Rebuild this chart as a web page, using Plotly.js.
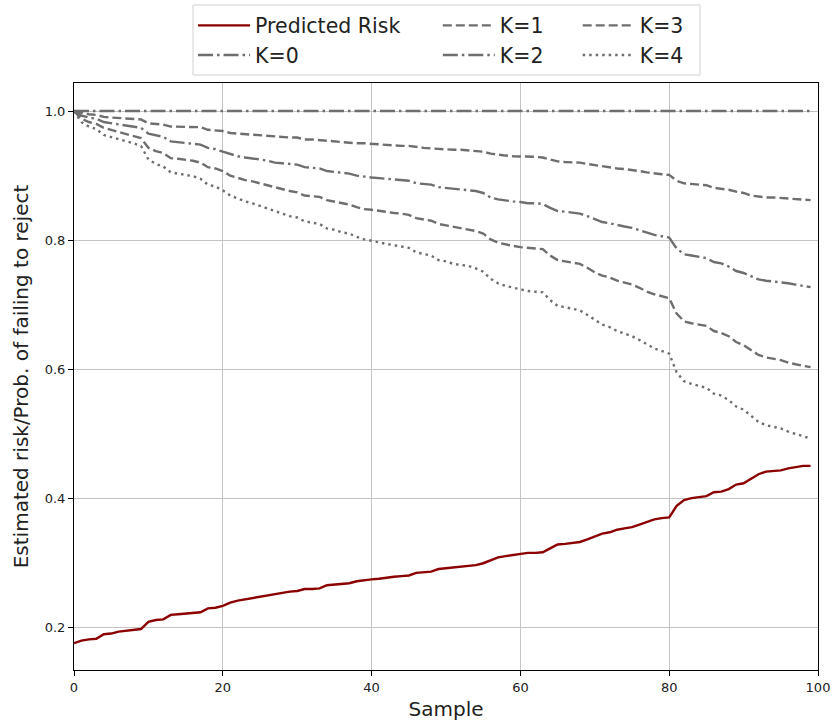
<!DOCTYPE html>
<html>
<head>
<meta charset="utf-8">
<script src="https://cdn.plot.ly/plotly-3.0.1.min.js"></script>
<style>html,body{margin:0;padding:0;background:#fff;}#chart{width:834px;height:725px;}</style>
</head>
<body>
<div id="chart"></div>
<script>
const sample = Array.from({length: 100}, (_, i) => i);

const predictedRisk = [
  0.175,0.179,0.181,0.182,0.189,0.190,0.193,0.194,0.195,0.197,
  0.208,0.211,0.212,0.219,0.220,0.221,0.222,0.223,0.229,0.230,
  0.233,0.238,0.241,0.243,0.245,0.247,0.249,0.252,0.254,0.255,
  0.256,0.259,0.259,0.260,0.265,0.266,0.268,0.268,0.271,0.273,
  0.274,0.275,0.277,0.278,0.279,0.280,0.284,0.285,0.286,0.290,
  0.291,0.293,0.293,0.294,0.296,0.299,0.304,0.308,0.310,0.312,
  0.313,0.315,0.315,0.316,0.322,0.328,0.329,0.331,0.332,0.336,
  0.340,0.345,0.347,0.351,0.353,0.355,0.359,0.363,0.367,0.369,
  0.370,0.388,0.397,0.400,0.401,0.403,0.409,0.410,0.414,0.421,
  0.423,0.430,0.437,0.441,0.442,0.443,0.446,0.448,0.450,0.450
];

const k0 = Array(100).fill(1.0);

const k1 = [
  1.000,0.997,0.995,0.994,0.991,0.990,0.989,0.989,0.988,0.987,
  0.981,0.980,0.979,0.976,0.976,0.976,0.975,0.975,0.971,0.970,
  0.969,0.966,0.965,0.964,0.963,0.962,0.962,0.960,0.959,0.959,
  0.959,0.956,0.956,0.955,0.953,0.952,0.952,0.951,0.950,0.950,
  0.949,0.948,0.947,0.947,0.946,0.946,0.944,0.943,0.942,0.941,
  0.941,0.940,0.940,0.939,0.938,0.937,0.934,0.932,0.931,0.930,
  0.930,0.929,0.929,0.928,0.925,0.922,0.921,0.921,0.920,0.918,
  0.916,0.914,0.913,0.911,0.910,0.909,0.907,0.905,0.903,0.902,
  0.901,0.892,0.888,0.887,0.886,0.885,0.881,0.880,0.878,0.875,
  0.873,0.869,0.867,0.866,0.866,0.865,0.864,0.863,0.862,0.862
];

const k2 = [
  1.000,0.993,0.990,0.988,0.983,0.981,0.979,0.978,0.976,0.974,
  0.965,0.962,0.960,0.953,0.952,0.951,0.950,0.948,0.943,0.941,
  0.937,0.933,0.930,0.928,0.927,0.925,0.923,0.920,0.919,0.918,
  0.917,0.913,0.912,0.911,0.907,0.906,0.904,0.903,0.900,0.898,
  0.897,0.896,0.895,0.894,0.893,0.892,0.888,0.887,0.886,0.882,
  0.881,0.879,0.879,0.878,0.876,0.873,0.866,0.863,0.861,0.860,
  0.859,0.857,0.857,0.856,0.850,0.845,0.844,0.842,0.841,0.837,
  0.832,0.828,0.826,0.823,0.821,0.819,0.815,0.811,0.808,0.806,
  0.804,0.787,0.778,0.776,0.774,0.772,0.766,0.764,0.759,0.752,
  0.749,0.744,0.739,0.737,0.736,0.735,0.733,0.731,0.729,0.727
];

const k3 = [
  1.000,0.988,0.983,0.980,0.974,0.971,0.968,0.965,0.962,0.958,
  0.943,0.938,0.935,0.927,0.926,0.925,0.923,0.920,0.913,0.911,
  0.907,0.900,0.896,0.893,0.891,0.888,0.885,0.881,0.878,0.876,
  0.874,0.869,0.868,0.867,0.862,0.860,0.857,0.855,0.851,0.848,
  0.847,0.845,0.844,0.842,0.841,0.839,0.834,0.832,0.830,0.825,
  0.823,0.820,0.819,0.817,0.814,0.810,0.801,0.796,0.793,0.791,
  0.789,0.788,0.787,0.786,0.776,0.769,0.767,0.765,0.763,0.757,
  0.750,0.745,0.742,0.737,0.734,0.731,0.726,0.720,0.716,0.713,
  0.710,0.686,0.674,0.671,0.669,0.667,0.659,0.656,0.651,0.642,
  0.637,0.630,0.622,0.618,0.616,0.614,0.610,0.607,0.605,0.603
];

const k4 = [
  1.000,0.983,0.976,0.972,0.963,0.960,0.956,0.953,0.950,0.946,
  0.925,0.918,0.914,0.905,0.903,0.902,0.899,0.895,0.886,0.883,
  0.877,0.869,0.864,0.860,0.857,0.853,0.849,0.844,0.840,0.837,
  0.835,0.829,0.827,0.825,0.818,0.816,0.812,0.810,0.805,0.801,
  0.799,0.796,0.794,0.792,0.790,0.788,0.781,0.779,0.776,0.769,
  0.767,0.763,0.762,0.760,0.756,0.751,0.740,0.733,0.729,0.726,
  0.724,0.721,0.720,0.719,0.707,0.698,0.696,0.693,0.691,0.684,
  0.676,0.669,0.665,0.659,0.655,0.651,0.645,0.638,0.632,0.628,
  0.624,0.595,0.581,0.577,0.574,0.571,0.562,0.559,0.552,0.542,
  0.537,0.528,0.518,0.513,0.511,0.508,0.503,0.500,0.496,0.492
];

const seriesNames = ['Predicted Risk','K=0','K=1','K=2','K=3','K=4'];
const xTicks = [0, 20, 40, 60, 80, 100];
const yTicks = [0.2, 0.4, 0.6, 0.8, 1.0];
const yTickText = ['0.2','0.4','0.6','0.8','1.0'];

const gray = '#6e6e6e';
const lw = 2.4;
const FONT = 'DejaVu Sans, sans-serif';
const DASH = '9px,4px';
const DASHDOT = '15px,4px,2.5px,4px';
const DOT = '2.5px,4px';

function tr(y, name, color, dash, legend) {
  return {
    x: sample, y: y, name: name, type: 'scatter', mode: 'lines',
    line: {color: color, width: lw, dash: dash},
    legend: legend, legendgroup: name, hoverinfo: 'skip'
  };
}

const data = [
  tr(predictedRisk, seriesNames[0], '#8b0000', 'solid', 'legend'),
  tr(k0, seriesNames[1], gray, DASHDOT, 'legend'),
  tr(k1, seriesNames[2], gray, DASH, 'legend2'),
  tr(k2, seriesNames[3], gray, DASHDOT, 'legend2'),
  tr(k3, seriesNames[4], gray, DASH, 'legend3'),
  tr(k4, seriesNames[5], gray, DOT, 'legend3')
];

const legBase = {
  orientation: 'v', xanchor: 'left', yanchor: 'top', y: 1.132,
  bgcolor: 'rgba(0,0,0,0)', borderwidth: 0,
  font: {family: FONT, size: 20.5, color: '#222'},
  tracegroupgap: 0, itemwidth: 52
};

const layout = {
  width: 834, height: 725,
  paper_bgcolor: '#fff', plot_bgcolor: '#fff',
  margin: {l: 74, r: 16, t: 83, b: 55, autoexpand: false},
  showlegend: true,
  legend: Object.assign({}, legBase, {x: 0.16}),
  legend2: Object.assign({}, legBase, {x: 0.489}),
  legend3: Object.assign({}, legBase, {x: 0.677}),
  xaxis: {
    range: [0, 100], tickvals: xTicks, ticks: 'outside', ticklen: 5, tickcolor: '#000',
    showline: true, mirror: true, linecolor: '#000', linewidth: 1,
    showgrid: true, gridcolor: '#c4c4c4', gridwidth: 1, zeroline: false,
    tickfont: {family: FONT, size: 13, color: '#222'},
    title: {text: 'Sample', font: {family: FONT, size: 20, color: '#222'}, standoff: 8},
    automargin: false
  },
  yaxis: {
    range: [0.1335, 1.0435], tickvals: yTicks, ticktext: yTickText, ticks: 'outside', ticklen: 5, tickcolor: '#000',
    showline: true, mirror: true, linecolor: '#000', linewidth: 1,
    showgrid: true, gridcolor: '#c4c4c4', gridwidth: 1, zeroline: false,
    tickfont: {family: FONT, size: 13, color: '#222'},
    title: {text: 'Estimated risk/Prob. of failing to reject', font: {family: FONT, size: 20, color: '#222'}, standoff: 10},
    automargin: false
  },
  shapes: [{
    type: 'rect', xref: 'paper', yref: 'paper',
    x0: 0.16, x1: 0.8414, y0: 1.0136, y1: 1.1329,
    line: {color: '#d0d0d0', width: 1}, fillcolor: 'rgba(255,255,255,0.8)', layer: 'below'
  }]
};

Plotly.newPlot('chart', data, layout, {staticPlot: true, displayModeBar: false});
</script>
</body>
</html>
